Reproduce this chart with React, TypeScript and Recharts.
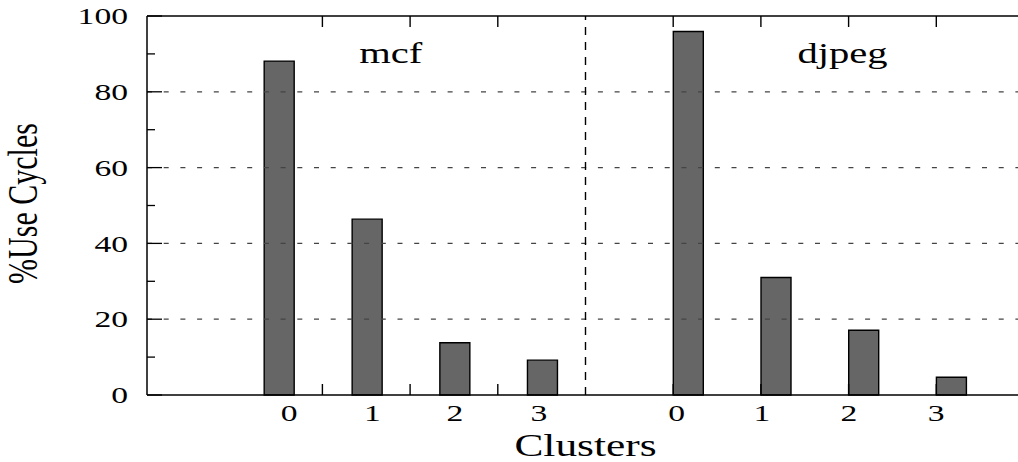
import React from "react";
import { BarChart, Bar, XAxis, YAxis, ReferenceLine, ReferenceDot } from "recharts";

const CLUSTERS = ["0", "1", "2", "3"];
const MCF_POS = [1.505, 2.508, 3.508, 4.507];
const MCF_USE = [88.1, 46.4, 13.8, 9.2];
const DJPEG_POS = [6.17, 7.17, 8.17, 9.17];
const DJPEG_USE = [95.9, 31.0, 17.1, 4.7];
const MCF_LABEL_POS = [1.62, 2.57, 3.51, 4.47];
const DJPEG_LABEL_POS = [6.04, 7.01, 8.003, 8.998];
const X_TICKS = [2, 3, 4, 6, 7, 8, 9];
const SPLIT_X = 5;
const Y_MAJOR = [0, 20, 40, 60, 80, 100];
const Y_ALL = [0, 10, 20, 30, 40, 50, 60, 70, 80, 90, 100];
const GRID_Y = [20, 40, 60, 80];
const GROUPS = ["mcf", "djpeg"];
const GROUP_AT = [
  { x: 2.78, y: 87.5 },
  { x: 7.93, y: 87.5 },
];

const X_DOMAIN = [0, 10];
const MARGIN_TOP = 16;

const rows = [
  ...MCF_POS.map((p, i) => ({ pos: p, use: MCF_USE[i] })),
  ...DJPEG_POS.map((p, i) => ({ pos: p, use: DJPEG_USE[i] })),
];
const labelTicks = [...MCF_LABEL_POS, ...DJPEG_LABEL_POS];
const labelTexts = [...CLUSTERS, ...CLUSTERS];

const FONT = "'Liberation Serif', 'Times New Roman', serif";
const SX = 1.4;

const Stretch = ({ x, y, text, size, anchor = "middle", baseline = "central" }: any) => (
  <text
    transform={`translate(${x},${y}) scale(${SX},1)`}
    textAnchor={anchor}
    dominantBaseline={baseline}
    fontFamily={FONT}
    fontSize={size}
    fill="#000"
  >
    {text}
  </text>
);

const BottomTick = (props: any) => {
  const { x, y, index } = props;
  return <Stretch x={x} y={y + 18} size={24} text={labelTexts[index]} />;
};

const LeftTick = (props: any) => {
  const { x, y, payload } = props;
  const major = Y_MAJOR.includes(payload.value);
  const edge = x + 19;
  return (
    <g>
      <line x1={edge} x2={edge + (major ? 15 : 8)} y1={y} y2={y} stroke="#000" strokeWidth={1.3} />
      {major && <Stretch x={x} y={y} size={24} anchor="end" text={String(payload.value)} />}
    </g>
  );
};

const YTitle = (props: any) => {
  const vb = props.viewBox;
  return (
    <text
      transform={`translate(${vb.x + 37},${vb.y + vb.height / 2 - 2}) rotate(-90) scale(1,${SX})`}
      textAnchor="middle"
      fontFamily={FONT}
      fontSize={30}
      fill="#000"
    >
      %Use Cycles
    </text>
  );
};

// x title, plus the inward tick marks on the bottom and top frame (axis box gives the x range)
const XTitle = (props: any) => {
  const vb = props.viewBox;
  const toX = (t: number) => vb.x + ((t - X_DOMAIN[0]) / (X_DOMAIN[1] - X_DOMAIN[0])) * vb.width;
  return (
    <g>
      {X_TICKS.map((t) => (
        <g key={t}>
          <line x1={toX(t)} x2={toX(t)} y1={vb.y} y2={vb.y - 11} stroke="#000" strokeWidth={1.4} />
          <line x1={toX(t)} x2={toX(t)} y1={MARGIN_TOP} y2={MARGIN_TOP + 11} stroke="#000" strokeWidth={1.4} />
        </g>
      ))}
      <Stretch x={vb.x + vb.width / 2} y={vb.y + 50} size={31} text="Clusters" />
    </g>
  );
};

const groupLabel = (name: string) => (props: any) => {
  const vb = props.viewBox;
  return <Stretch x={vb.x + vb.width / 2} y={vb.y + vb.height / 2} size={29} baseline="alphabetic" text={name} />;
};

export default function App() {
  return (
    <div
      style={{
        position: "absolute",
        left: 0,
        top: 0,
        width: 1018,
        height: 462,
        overflow: "hidden",
        background: "#fff",
      }}
    >
      <BarChart width={1030} height={462} data={rows} margin={{ top: MARGIN_TOP, right: 6, bottom: 0, left: 0 }}>
        <XAxis
          xAxisId="x"
          type="number"
          dataKey="pos"
          domain={X_DOMAIN}
          allowDataOverflow
          ticks={labelTicks}
          interval={0}
          height={67}
          tickSize={0}
          tickMargin={0}
          tickLine={false}
          tick={<BottomTick />}
          axisLine={{ stroke: "#000", strokeWidth: 1.5 }}
          label={<XTitle />}
        />
        <YAxis
          yAxisId="v"
          type="number"
          domain={[0, 100]}
          ticks={Y_ALL}
          interval={0}
          width={147}
          tickSize={0}
          tickMargin={19}
          tickLine={false}
          tick={<LeftTick />}
          axisLine={{ stroke: "#000", strokeWidth: 1.5 }}
          label={<YTitle />}
        />
        {GRID_Y.map((g) => (
          <ReferenceLine
            key={`g${g}`}
            xAxisId="x"
            yAxisId="v"
            y={g}
            stroke="#444"
            strokeWidth={1.2}
            strokeDasharray="5 11.7"
          />
        ))}
        <ReferenceLine xAxisId="x" yAxisId="v" y={100} stroke="#000" strokeWidth={1.5} />
        <ReferenceLine
          xAxisId="x"
          yAxisId="v"
          x={SPLIT_X}
          stroke="#000"
          strokeWidth={1.4}
          strokeDasharray="8 7"
        />
        <Bar
          xAxisId="x"
          yAxisId="v"
          dataKey="use"
          barSize={30}
          fill="#666666"
          stroke="#000"
          strokeWidth={1.4}
          isAnimationActive={false}
        />
        {GROUPS.map((name, i) => (
          <ReferenceDot
            key={name}
            xAxisId="x"
            yAxisId="v"
            x={GROUP_AT[i].x}
            y={GROUP_AT[i].y}
            r={1}
            fill="none"
            stroke="none"
            label={groupLabel(name)}
          />
        ))}
      </BarChart>
    </div>
  );
}
